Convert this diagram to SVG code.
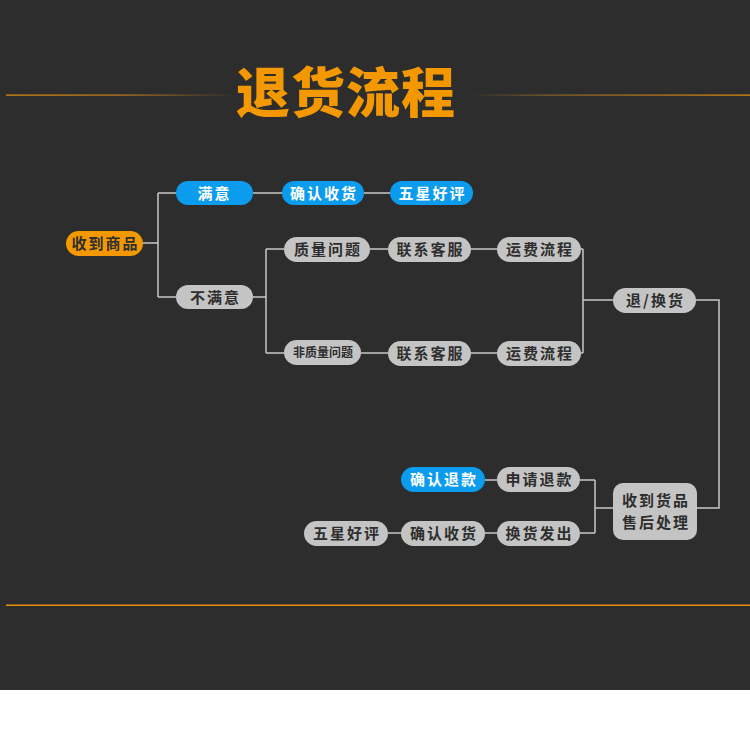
<svg xmlns="http://www.w3.org/2000/svg" width="750" height="739" viewBox="0 0 750 739">
<defs>
<linearGradient id="gl" x1="0" y1="0" x2="1" y2="0"><stop offset="0" stop-color="#e8900a"/><stop offset="0.5" stop-color="#c07c1c"/><stop offset="1" stop-color="#2d2d2d"/></linearGradient>
<linearGradient id="gr" x1="0" y1="0" x2="1" y2="0"><stop offset="0" stop-color="#2d2d2d"/><stop offset="0.3" stop-color="#8a6428"/><stop offset="1" stop-color="#e8900a"/></linearGradient>
</defs>
<style>
.o{fill:#f39800}.b{fill:#0b9cee}.g{fill:#c4c4c4}
.t{font-family:"Noto Sans CJK SC","Noto Sans",sans-serif;font-weight:bold;font-size:15px;letter-spacing:2px;text-anchor:middle;fill:#2e2e2e}
.w{fill:#ffffff}
.c{fill:none;stroke:#c8c8c8;stroke-width:1.5}
</style>
<rect x="0" y="0" width="750" height="690" fill="#2d2d2d"/>
<rect x="0" y="690" width="750" height="49" fill="#ffffff"/>
<rect x="6" y="94.5" width="230" height="1.2" fill="url(#gl)"/>
<rect x="470" y="94.5" width="280" height="1.2" fill="url(#gr)"/>
<rect x="6" y="604.5" width="744" height="1.5" fill="#e8900a"/>
<text x="346" y="113" style="font-family:'Noto Sans CJK SC',sans-serif;font-weight:900;font-size:54px;letter-spacing:1px;text-anchor:middle;fill:#f39800">退货流程</text>
<g id="connectors">
<path class="c" d="M143 243H158M158 193V297M158 193H176M158 297H176"/>
<path class="c" d="M253 193H282M364 193H390"/>
<path class="c" d="M253 297H266M266 249V353M266 249H284M266 353H284"/>
<path class="c" d="M370 249H388M471 249H497M361 353H388M471 353H497"/>
<path class="c" d="M581 249H583M583 249V353M581 353H583M583 300H613"/>
<path class="c" d="M696 300H719V508H697"/>
<path class="c" d="M613 508H595M595 480V533M595 480H580M595 533H580"/>
<path class="c" d="M485 480H497M485 533H497M388 533H401"/>
</g>
<g id="n1"><rect class="o" x="66" y="231" width="77" height="25" rx="12.5"/><text class="t" x="105.5" y="248.5">收到商品</text></g>
<g id="n2"><rect class="b" x="176" y="181" width="77" height="24" rx="12"/><text class="t w" x="214.5" y="198.5">满意</text></g>
<g id="n3"><rect class="b" x="282" y="181" width="82" height="24" rx="12"/><text class="t w" x="324" y="198.5">确认收货</text></g>
<g id="n4"><rect class="b" x="390" y="181" width="83" height="24" rx="12"/><text class="t w" x="432.5" y="198.5">五星好评</text></g>
<g id="n5"><rect class="g" x="176" y="285" width="77" height="24" rx="12"/><text class="t" x="215.5" y="302.5">不满意</text></g>
<g id="n6"><rect class="g" x="284" y="237" width="86" height="25" rx="12.5"/><text class="t" x="328" y="255">质量问题</text></g>
<g id="n7"><rect class="g" x="388" y="237" width="83" height="25" rx="12.5"/><text class="t" x="430.5" y="255">联系客服</text></g>
<g id="n8"><rect class="g" x="497" y="237" width="84" height="25" rx="12.5"/><text class="t" x="540" y="255">运费流程</text></g>
<g id="n9"><rect class="g" x="284" y="340" width="77" height="25" rx="12.5"/><text class="t" x="323" y="357" style="font-size:12px;letter-spacing:0">非质量问题</text></g>
<g id="n10"><rect class="g" x="388" y="341" width="83" height="25" rx="12.5"/><text class="t" x="430.5" y="359">联系客服</text></g>
<g id="n11"><rect class="g" x="497" y="341" width="84" height="25" rx="12.5"/><text class="t" x="540" y="359">运费流程</text></g>
<g id="n12"><rect class="g" x="613" y="288" width="83" height="25" rx="12.5"/><text class="t" x="655.5" y="306">退/换货</text></g>
<g id="n13"><rect class="g" x="613" y="483" width="84" height="57" rx="10"/><text class="t" x="656" y="506">收到货品</text><text class="t" x="656" y="528">售后处理</text></g>
<g id="n14"><rect class="g" x="497" y="467" width="83" height="25" rx="12.5"/><text class="t" x="539.5" y="485">申请退款</text></g>
<g id="n15"><rect class="b" x="401" y="467" width="84" height="25" rx="12.5"/><text class="t w" x="444" y="485">确认退款</text></g>
<g id="n16"><rect class="g" x="497" y="521" width="83" height="25" rx="12.5"/><text class="t" x="539.5" y="539">换货发出</text></g>
<g id="n17"><rect class="g" x="401" y="521" width="84" height="25" rx="12.5"/><text class="t" x="444" y="539">确认收货</text></g>
<g id="n18"><rect class="g" x="304" y="521" width="84" height="25" rx="12.5"/><text class="t" x="347" y="539">五星好评</text></g>
</svg>
